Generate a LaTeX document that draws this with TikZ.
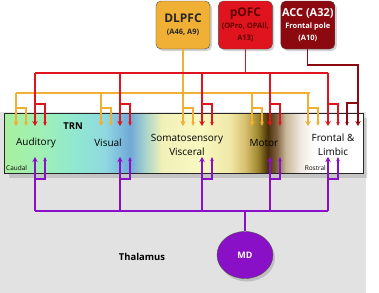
\documentclass[tikz,border=0pt]{standalone}
\usepackage{fontspec}
\setmainfont{Open Sans}
\usetikzlibrary{shapes.geometric, arrows.meta, positioning, shadows}

\definecolor{dlpfcor}{HTML}{F0B035}
\definecolor{pofcred}{HTML}{E0141E}
\definecolor{accred}{HTML}{8C0A0F}
\definecolor{pofctxt}{HTML}{5E0000}
\definecolor{mdpurple}{HTML}{8A10C8}
\definecolor{thalgray}{HTML}{E2E2E2}

% colours along the TRN, caudal to rostral
\definecolor{trnA}{HTML}{A8F0A0}
\definecolor{trnB}{HTML}{A0F0B4}
\definecolor{trnC}{HTML}{90E8D0}
\definecolor{trnD}{HTML}{90D8E0}
\definecolor{trnE}{HTML}{70A8D8}
\definecolor{trnF}{HTML}{A8D4CC}
\definecolor{trnG}{HTML}{F0F0B8}
\definecolor{trnH}{HTML}{F8F8C0}
\definecolor{trnI}{HTML}{F0E8A8}
\definecolor{trnJ}{HTML}{D8C070}
\definecolor{trnK}{HTML}{A08830}
\definecolor{trnL}{HTML}{483008}
\definecolor{trnM}{HTML}{806040}
\definecolor{trnN}{HTML}{C8B898}
\definecolor{trnO}{HTML}{F0E8E0}
\pgfdeclarehorizontalshading{trngrad}{100bp}{color(0bp)=(trnA); color(25bp)=(trnA);
  color(29.9bp)=(trnB); color(34.8bp)=(trnC); color(39bp)=(trnD); color(42.5bp)=(trnE);
  color(44.6bp)=(trnF); color(46.9bp)=(trnG); color(52.2bp)=(trnH); color(56.4bp)=(trnI);
  color(58.5bp)=(trnJ); color(60.3bp)=(trnK); color(61.7bp)=(trnL); color(62.9bp)=(trnM);
  color(64.2bp)=(trnN); color(66.2bp)=(trnO); color(68.3bp)=(white); color(100bp)=(white)}

\newcommand{\areatitle}{\fontsize{12}{14}\selectfont\bfseries}
\newcommand{\areasub}{\fontsize{7.5}{9.5}\selectfont\bfseries}

\begin{document}
\begin{tikzpicture}[
    x=1bp, y=-1bp,
    node distance=8bp,
    area/.style={rectangle, draw=black!70, rounded corners=5bp, align=center, minimum width=54bp,
      minimum height=48bp, inner sep=1bp, drop shadow={shadow xshift=2bp, shadow yshift=-2bp, opacity=0.35}},
    trnbox/.style={rectangle, draw=black!85, line width=1bp, shade, shading=trngrad, minimum width=358bp,
      minimum height=60bp, drop shadow={shadow xshift=4bp, shadow yshift=-4bp, opacity=0.3}},
    reglabel/.style={align=center, font=\fontsize{10}{14}\selectfont},
    sidelabel/.style={font=\fontsize{6.5}{7}\selectfont, inner sep=0pt},
    mdnode/.style={ellipse, draw=black!70, fill=mdpurple, minimum width=56bp, minimum height=47bp,
      text=white, font=\fontsize{9}{10}\selectfont\bfseries, drop shadow={shadow xshift=2bp, shadow yshift=-3bp, opacity=0.35}},
    oline/.style={draw=dlpfcor, line width=1.3bp},
    rline/.style={draw=pofcred, line width=1.3bp},
    dline/.style={draw=accred, line width=1.3bp},
    pline/.style={draw=mdpurple, line width=1.3bp},
    maintip/.style={-{Stealth[length=5bp, width=5.5bp]}},
    sidetip/.style={-{Stealth[length=4bp, width=3.5bp]}}
]
\useasboundingbox (0,0) rectangle (379,293);

% Thalamus backdrop
\fill[thalgray] (0,112) rectangle (366,293);
\node[font=\fontsize{9.5}{10}\selectfont\bfseries] (thal) at (142,257) {Thalamus};

% Cortical areas
\node[area, fill=dlpfcor, text=black!85] (dlpfc) at (183,25) {\areatitle DLPFC\\\areasub (A46, A9)};
\node[area, fill=pofcred, text=pofctxt, right=of dlpfc] (pofc) {\areatitle pOFC\\\areasub (OPro, OPAll,\\\areasub A13)};
\node[area, fill=accred, text=white, right=of pofc] (acc) {\fontsize{11}{13}\selectfont\bfseries ACC (A32)\\\areasub Frontal pole\\\areasub (A10)};

% TRN
\node[trnbox] (trn) at (184,143.5) {};
\node[font=\fontsize{9.5}{10}\selectfont\bfseries] (trnlbl) at (73,126) {TRN};
\node[reglabel] (aud) at (36,143) {Auditory};
\node[reglabel] (vis) at (108,143) {Visual};
\node[reglabel] (som) at (187,145) {Somatosensory\\Visceral};
\node[reglabel] (mot) at (264,143) {Motor};
\node[reglabel] (fro) at (333,145) {Frontal \&\\Limbic};
\node[sidelabel, anchor=west] (caudal) at (6,168) {Caudal};
\node[sidelabel, anchor=east] (rostral) at (326,168) {Rostral};

% MD
\node[mdnode] (md) at (245,255) {MD};

% bus levels
\coordinate (dbus) at (0,65);
\coordinate (rbus) at (0,73);
\coordinate (obus) at (0,93);
\coordinate (dbr) at (0,103);
\coordinate (rbr) at (0,104);
\coordinate (obr) at (0,108);
\coordinate (pbr) at (0,179);
\coordinate (pbus) at (0,211);

% arrow targets in the TRN
\foreach \reg/\xo/\xr in {aud/16/35, vis/101/120, som/183/202, mot/252/270, fro/308/328} {
  \coordinate (\reg-o) at (\xo,126);
  \coordinate (\reg-r) at (\xr,126);
  \coordinate (\reg-p) at (\xr,157);
}
\coordinate (fro-d) at (358,126);

% DLPFC to TRN
\draw[oline] (dlpfc.south) -- (dlpfc.south |- obus);
\draw[oline] (aud-o |- obus) -- ([xshift=2bp]fro-o |- obus);
\foreach \reg in {aud, vis, som, mot, fro} {
  \draw[oline, maintip] (\reg-o |- obus) -- (\reg-o);
  \draw[oline, sidetip] (\reg-o |- obr) -| ([xshift=10bp]\reg-o);
}

% pOFC to TRN
\draw[rline] (pofc.south) -- (pofc.south |- rbus);
\draw[rline] (aud-r |- rbus) -- (fro-r |- rbus);
\foreach \reg in {aud, vis, som, mot, fro} {
  \draw[rline, maintip] (\reg-r |- rbus) -- (\reg-r);
  \draw[rline, sidetip] (\reg-r |- rbr) -| ([xshift=10bp]\reg-r);
}

% ACC to TRN
\draw[dline, maintip] (acc.south) |- (fro-d |- dbus) -- (fro-d);
\draw[dline, sidetip] (fro-d |- dbr) -| ([xshift=-11bp]fro-d);

% MD to TRN
\draw[pline] (md.north) -- (md.north |- pbus);
\draw[pline] (aud-p |- pbus) -- (fro-p |- pbus);
\foreach \reg in {aud, vis, som, mot, fro} {
  \draw[pline, maintip] (\reg-p |- pbus) -- (\reg-p);
  \draw[pline, sidetip] (\reg-p |- pbr) -| ([xshift=10bp]\reg-p);
}

\end{tikzpicture}
\end{document}
